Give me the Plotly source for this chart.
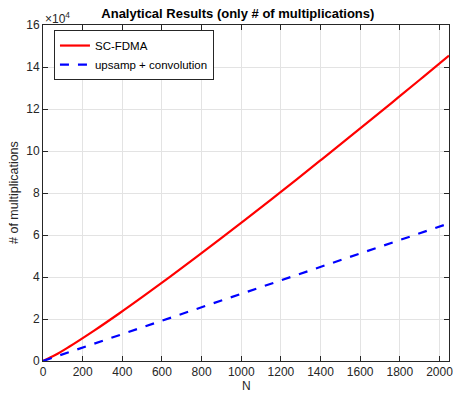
import plotly.graph_objects as go

# Data
n_sc = [1, 64, 128, 256, 384, 512, 640, 768, 896, 1024, 1152, 1280, 1408, 1536, 1664, 1792, 1920, 2048]
sc_fdma = [16, 2940, 6530, 14340, 22620, 31230, 40060, 49100, 58270, 67580, 77010, 86530, 96170, 105870, 115650, 125500, 135420, 145410]
n_up = [1, 512, 1024, 1536, 2048]
upsamp_conv = [32, 16384, 32768, 49152, 65536]

x_ticks = [0, 200, 400, 600, 800, 1000, 1200, 1400, 1600, 1800, 2000]
y_ticks = [0, 20000, 40000, 60000, 80000, 100000, 120000, 140000, 160000]
y_tick_labels = ["0", "2", "4", "6", "8", "10", "12", "14", "16"]

font_family = "Liberation Sans, Arial, sans-serif"
axis_col = "#262626"

fig = go.Figure()
fig.add_trace(go.Scatter(x=n_sc, y=sc_fdma, mode="lines", name="SC-FDMA",
                         line=dict(color="#ff0000", width=2.2, shape="spline")))
fig.add_trace(go.Scatter(x=n_up, y=upsamp_conv, mode="lines", name="upsamp + convolution",
                         line=dict(color="#0000ff", width=2.2, dash="dash")))

fig.update_layout(
    width=453, height=394,
    margin=dict(l=43, r=4, t=25, b=33),
    paper_bgcolor="white", plot_bgcolor="white",
    font=dict(family=font_family, size=12, color=axis_col),
    title=dict(text="<b>Analytical Results (only # of multiplications)</b>",
               x=0.525, xanchor="center", y=0.967, yanchor="middle",
               font=dict(size=13, color="black")),
    showlegend=True,
    legend=dict(x=0.027, y=0.985, xanchor="left", yanchor="top",
                bgcolor="white", bordercolor=axis_col, borderwidth=1,
                font=dict(size=11.5, color="black"), tracegroupgap=0,
                itemwidth=30),
    xaxis=dict(range=[0, 2048], tickvals=x_ticks, ticks="inside", ticklen=5,
               tickcolor=axis_col, showline=True, linecolor=axis_col, linewidth=1,
               mirror="allticks", showgrid=True, gridcolor="#e3e3e3", zeroline=False,
               tickfont=dict(size=12), automargin=False, ticklabeloverflow="allow"),
    yaxis=dict(range=[0, 160000], tickvals=y_ticks, ticktext=y_tick_labels,
               ticks="inside", ticklen=5, tickcolor=axis_col, showline=True,
               linecolor=axis_col, linewidth=1, mirror="allticks", showgrid=True,
               gridcolor="#e3e3e3", zeroline=False, tickfont=dict(size=12),
               automargin=False, ticklabeloverflow="allow"),
)

# Axis titles
fig.add_annotation(text="N", xref="paper", yref="paper", x=0.5, y=0,
                   xanchor="center", yanchor="middle", yshift=-25, borderpad=0,
                   showarrow=False, font=dict(size=12, color=axis_col))
fig.add_annotation(text="# of multiplications", xref="paper", yref="paper", x=0, y=0.5,
                   xanchor="center", yanchor="middle", xshift=-29, textangle=-90,
                   showarrow=False, font=dict(size=12.5, color=axis_col))
fig.add_annotation(text="×10<sup>4</sup>", xref="paper", yref="paper",
                   x=0.0, y=1.0, xanchor="left", yanchor="bottom", showarrow=False,
                   font=dict(size=12, color=axis_col), yshift=-3)

fig.write_html("out.html")
